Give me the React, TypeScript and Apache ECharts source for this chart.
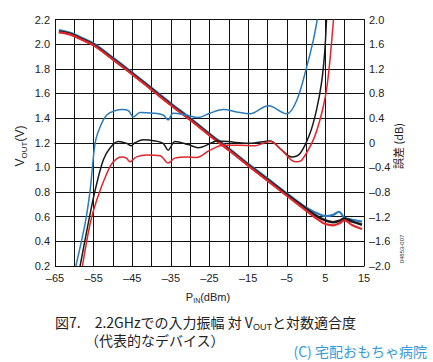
import React, { useEffect, useRef } from "react";
import * as echarts from "echarts";

// P_IN sample points (dBm) for VOUT curves
const pinVout = [-64, -62, -60, -58, -55, -50, -45, -40, -35, -30, -25, -20, -15, -10, -5, 0, 3, 5, 7, 8.5, 10, 12, 14.5];
const voutBlue = [2.115, 2.1, 2.08, 2.05, 2.005, 1.89, 1.77, 1.645, 1.52, 1.4, 1.275, 1.155, 1.03, 0.91, 0.79, 0.675, 0.625, 0.605, 0.615, 0.64, 0.59, 0.575, 0.56];
const voutBlack = [2.1, 2.09, 2.07, 2.04, 1.995, 1.88, 1.76, 1.635, 1.51, 1.39, 1.265, 1.145, 1.02, 0.9, 0.78, 0.665, 0.6, 0.57, 0.555, 0.565, 0.585, 0.56, 0.535];
const voutRed = [2.095, 2.085, 2.065, 2.035, 1.99, 1.875, 1.755, 1.63, 1.505, 1.385, 1.26, 1.14, 1.015, 0.893, 0.77, 0.65, 0.578, 0.54, 0.53, 0.545, 0.57, 0.53, 0.5];

// Error curves (dB), each with its own P_IN points
const errPinBlue = [-59.6, -57.2, -55.9, -54.6, -53.3, -51.6, -49.5, -47.5, -46, -44.7, -43, -39.6, -37, -35.7, -34.4, -31, -27.9, -24.9, -21.4, -18, -14.5, -9.8, -5, -2.4, 0.2, 1.9, 2.9];
const errBlue = [-2, -1.31, -0.77, 0.0, 0.26, 0.45, 0.52, 0.54, 0.52, 0.42, 0.49, 0.48, 0.45, 0.37, 0.48, 0.45, 0.41, 0.48, 0.54, 0.5, 0.47, 0.6, 0.47, 0.69, 1.24, 1.67, 2.0];
const errPinBlack = [-58.5, -56.4, -54.6, -52.5, -50.8, -48.6, -46.4, -45.3, -44.3, -42.1, -39.1, -37, -35.7, -33.9, -30.5, -27.9, -24.4, -23.1, -18.8, -14.5, -9.3, -6.8, -3.7, -1.5, 1.0, 2.7, 4.0, 4.8, 5.3];
const errBlack = [-2, -1.31, -0.77, -0.28, -0.09, 0.02, -0.01, -0.05, 0.0, 0.05, 0.03, -0.01, -0.12, 0.02, -0.03, -0.08, 0.0, 0.03, 0.01, -0.01, 0.03, -0.09, -0.23, -0.17, 0.15, 0.53, 0.97, 1.45, 2.0];
const errPinRed = [-57.9, -55.9, -54.2, -51.6, -49.9, -47.8, -46.5, -45.6, -43.9, -41.3, -37.8, -35.7, -34, -30.9, -28.4, -24.9, -21.4, -17, -13.6, -9.3, -6.3, -2.8, -1.1, 1.9, 3.5, 4.5, 5.3, 6.2, 7.1];
const errRed = [-2, -1.31, -0.93, -0.5, -0.31, -0.23, -0.25, -0.31, -0.23, -0.2, -0.21, -0.33, -0.25, -0.23, -0.24, -0.12, -0.04, -0.04, -0.05, 0.02, -0.12, -0.31, -0.28, 0.05, 0.35, 0.6, 0.86, 1.35, 2.0];

const BLUE = "#2b7bbd";
const BLACK = "#1a1a1a";
const RED = "#e0262b";
const FONT = "'Liberation Sans', Arial, 'Noto Sans CJK JP', sans-serif";
const JFONT = "'Noto Sans CJK JP', 'Liberation Sans', sans-serif";

const pairs = (xs: number[], ys: number[]) => xs.map((x, i) => [x, ys[i]]);
const dash = (s: string) => s.replace("-", "–");

export default function App() {
  const ref = useRef<HTMLDivElement>(null);
  useEffect(() => {
    if (!ref.current) return;
    const chart = echarts.init(ref.current, undefined, { renderer: "svg" });
    const gridLine = { show: true, lineStyle: { color: "#111", width: 1 } };
    const lineSeries = (name: string, data: number[][], color: string, yAxisIndex: number, width: number) => ({
      name,
      type: "line",
      data,
      yAxisIndex,
      smooth: 0.35,
      showSymbol: false,
      symbol: "none",
      lineStyle: { color, width },
      z: 3,
    });
    chart.setOption({
      animation: false,
      backgroundColor: "#fff",
      grid: { left: 55, right: 69, top: 19.5, bottom: 96 },
      xAxis: {
        type: "value",
        min: -65,
        max: 15,
        interval: 5,
        axisLine: { show: true, lineStyle: { color: "#111", width: 1 } },
        axisTick: { show: false },
        splitLine: gridLine,
        axisLabel: {
          color: "#222",
          fontSize: 11,
          fontFamily: FONT,
          margin: 6,
          formatter: (v: number) => ((Math.round(v) + 65) % 10 === 0 ? dash(String(Math.round(v))) : ""),
        },
      },
      yAxis: [
        {
          type: "value",
          min: 0.2,
          max: 2.2,
          interval: 0.2,
          axisLine: { show: true, lineStyle: { color: "#111", width: 1 } },
          axisTick: { show: false },
          splitLine: gridLine,
          axisLabel: {
            color: "#222",
            fontSize: 11,
            fontFamily: FONT,
            margin: 5,
            formatter: (v: number) => v.toFixed(1),
          },
        },
        {
          type: "value",
          min: -2,
          max: 2,
          interval: 0.4,
          position: "right",
          axisLine: { show: true, lineStyle: { color: "#111", width: 1 } },
          axisTick: { show: false },
          splitLine: { show: false },
          axisLabel: {
            color: "#222",
            fontSize: 11,
            fontFamily: FONT,
            margin: 5,
            formatter: (v: number) => (Math.abs(v) < 1e-9 ? "0" : dash(v.toFixed(1))),
          },
        },
      ],
      series: [
        lineSeries("VOUT blue", pairs(pinVout, voutBlue), BLUE, 0, 2.2),
        lineSeries("VOUT black", pairs(pinVout, voutBlack), BLACK, 0, 2.6),
        lineSeries("VOUT red", pairs(pinVout, voutRed), RED, 0, 2.2),
        lineSeries("Error blue", pairs(errPinBlue, errBlue), BLUE, 1, 1.5),
        lineSeries("Error black", pairs(errPinBlack, errBlack), BLACK, 1, 1.5),
        lineSeries("Error red", pairs(errPinRed, errRed), RED, 1, 1.5),
      ],
      graphic: [
        {
          type: "text",
          x: 20,
          y: 146,
          rotation: Math.PI / 2,
          style: {
            text: "{m|V}{s|OUT}{m|(V)}",
            align: "center",
            verticalAlign: "middle",
            fill: "#222",
            rich: {
              m: { fontSize: 12, fontFamily: FONT, fill: "#222", lineHeight: 16 },
              s: { fontSize: 8, fontFamily: FONT, fill: "#222", verticalAlign: "bottom", lineHeight: 6 },
            },
          },
        },
        {
          type: "text",
          x: 398,
          y: 146,
          rotation: Math.PI / 2,
          style: {
            text: "誤差 (dB)",
            align: "center",
            verticalAlign: "middle",
            fill: "#222",
            fontSize: 11,
            fontFamily: JFONT,
          },
        },
        {
          type: "text",
          x: 402,
          y: 249,
          rotation: Math.PI / 2,
          style: {
            text: "04853-007",
            align: "center",
            verticalAlign: "middle",
            fill: "#333",
            fontSize: 6,
            fontFamily: FONT,
          },
        },
        {
          type: "text",
          x: 208,
          y: 297,
          style: {
            text: "{m|P}{s|IN}{m|(dBm)}",
            align: "center",
            verticalAlign: "middle",
            fill: "#222",
            rich: {
              m: { fontSize: 11, fontFamily: FONT, fill: "#222", lineHeight: 14 },
              s: { fontSize: 7, fontFamily: FONT, fill: "#222", verticalAlign: "bottom", lineHeight: 5 },
            },
          },
        },
        {
          type: "text",
          x: 55,
          y: 322,
          style: {
            text: "{m|図7.　2.2GHzでの入力振幅 対 V}{s|OUT}{m|と対数適合度}",
            align: "left",
            verticalAlign: "middle",
            fill: "#222",
            rich: {
              m: { fontSize: 14, fontFamily: JFONT, fill: "#222", lineHeight: 18 },
              s: { fontSize: 9, fontFamily: FONT, fill: "#222", verticalAlign: "bottom", lineHeight: 7 },
            },
          },
        },
        {
          type: "text",
          x: 85,
          y: 340,
          style: {
            text: "（代表的なデバイス）",
            align: "left",
            verticalAlign: "middle",
            fill: "#222",
            fontSize: 14,
            fontFamily: JFONT,
          },
        },
        {
          type: "text",
          x: 427,
          y: 351,
          style: {
            text: "(C) 宅配おもちゃ病院",
            align: "right",
            verticalAlign: "middle",
            fill: "#3a9ad6",
            fontSize: 14,
            fontFamily: JFONT,
          },
        },
      ],
    });
    return () => chart.dispose();
  }, []);
  return (
    <div
      ref={ref}
      style={{ position: "fixed", left: 0, top: 0, width: 433, height: 362, background: "#fff" }}
    />
  );
}
